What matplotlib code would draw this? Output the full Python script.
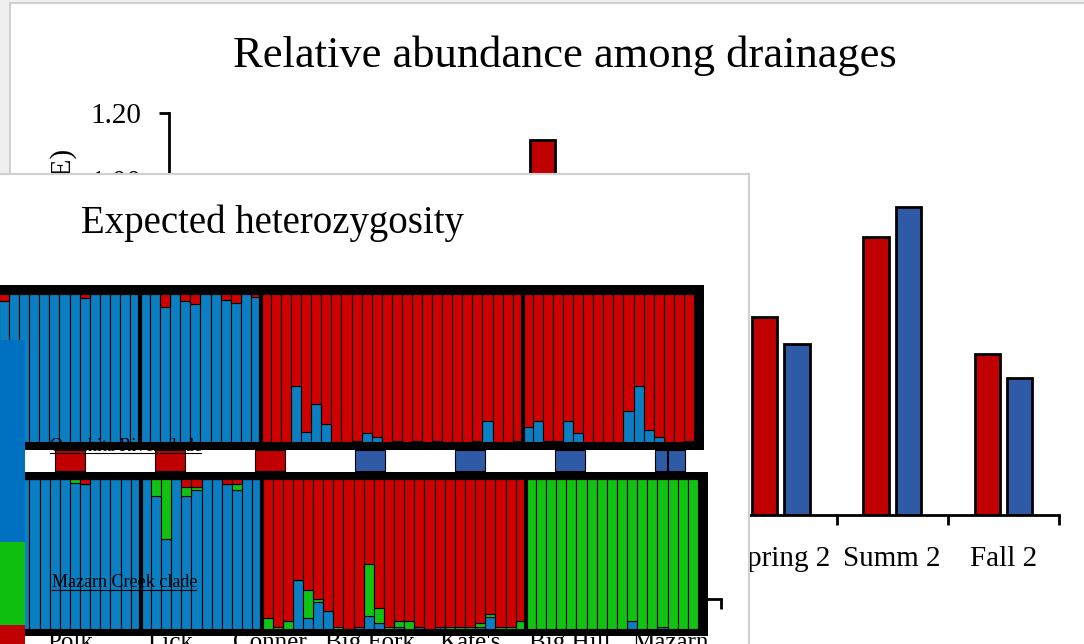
import numpy as np
import matplotlib
matplotlib.use("Agg")
import matplotlib.pyplot as plt
from matplotlib.lines import Line2D
from matplotlib import transforms

# background chart: relative abundance per sampling season
seasons = ["Winter 1", "Spring 1", "Summ 1", "Fall 1", "Winter 2", "Spring 2", "Summ 2", "Fall 2"]
abund_red = [0.55, 0.62, 0.85, 1.12, 0.40, 0.59, 0.83, 0.48]
abund_blue = [0.50, 0.58, 0.90, 0.80, 0.35, 0.51, 0.92, 0.41]

# population labels and colour codes under the STRUCTURE plots
pops = ["Polk", "Lick", "Conner", "Big Fork", "Kate's", "Big Hill", "Mazarn"]
pop_codes = ["red", "red", "red", "blue", "blue", "blue", "blue"]

# STRUCTURE K=2 (blue share of each individual), four blocks
k2_blue_a = [0.955, 1, 1, 1, 1, 1, 1, 1, 0.97, 1, 1, 1, 1, 1]
k2_blue_b = [1, 1, 0.91, 1, 0.955, 0.93, 1, 1, 0.96, 0.94, 1, 0.98]
k2_blue_c = [0, 0, 0, 0.38, 0.07, 0.255, 0.124, 0, 0, 0.01, 0.06, 0.035, 0,
             0.01, 0, 0.01, 0, 0.01, 0, 0, 0, 0.01, 0.14, 0, 0, 0.01]
k2_blue_d = [0.10, 0.14, 0.01, 0.01, 0.14, 0.06, 0, 0, 0, 0, 0.21, 0.38, 0.08,
             0.035, 0, 0, 0.01]

# STRUCTURE K=3 (blue, green, red shares)
k3_blue_a = [1, 1, 1, 1, 1, 1, 1, 0.973, 0.97, 1, 1, 1, 1, 1]
k3_green_a = [0, 0, 0, 0, 0, 0, 0, 0.027, 0, 0, 0, 0, 0, 0]
k3_blue_b = [1, 0.885, 0.60, 1, 0.889, 0.929, 1, 1, 0.97, 0.93, 1, 1]
k3_green_b = [0, 0.115, 0.40, 0, 0.058, 0.018, 0, 0, 0, 0.04, 0, 0]
k3_blue_c = [0, 0, 0, 0.33, 0.073, 0.18, 0.12, 0, 0, 0.013, 0.085, 0.04, 0,
             0.013, 0, 0.013, 0, 0.013, 0, 0, 0, 0.013, 0.078, 0, 0, 0]
k3_green_c = [0.073, 0.013, 0.055, 0, 0.19, 0.022, 0, 0.013, 0, 0, 0.35, 0.10,
              0.013, 0.04, 0.055, 0, 0, 0, 0.013, 0.013, 0.013, 0.027, 0.024,
              0.013, 0.013, 0.055]
k3_blue_d = [0, 0, 0, 0, 0, 0, 0, 0, 0, 0, 0.055, 0, 0, 0.013, 0, 0, 0]
k3_green_d = [1, 1, 1, 1, 1, 1, 1, 1, 1, 1, 0.945, 1, 1, 0.987, 1, 1, 1]

# cluster key on the left edge
key_colors = ["#0070c0", "#10c010", "#c00000"]
key_sizes = [0.63, 0.26, 0.11]

RED, BLUE = "#c00000", "#2f5ba6"
S_BLUE, S_GREEN, S_RED = "#0b7fc1", "#12c212", "#cf0000"

plt.rcParams['font.family'] = ['Liberation Serif', 'DejaVu Serif']
W, H = 1084, 644
fig = plt.figure(figsize=(W / 100, H / 100), dpi=100)
fig.patch.set_facecolor("#f0f0f0")


def px_box(x0, y0, x1, y1):
    return [x0 / W, 1 - y1 / H, (x1 - x0) / W, (y1 - y0) / H]


def blank(ax, face="white", edges=(), ec="#d0d0d0"):
    ax.set_facecolor(face)
    ax.set_xticks([])
    ax.set_yticks([])
    for name, sp in ax.spines.items():
        sp.set_visible(name in edges)
        sp.set_edgecolor(ec)
        sp.set_linewidth(1.5)


# background panel
bg = fig.add_axes(px_box(10, 3, 1110, 700))
blank(bg, edges=("left", "top"))

ax = fig.add_axes(px_box(169, 113, 1059, 515))
xc = np.arange(len(seasons)) + 0.5
ax.bar(xc - 0.145, abund_red, 0.225, color=RED, edgecolor="black", linewidth=2)
ax.bar(xc + 0.145, abund_blue, 0.225, color=BLUE, edgecolor="black", linewidth=2)
ax.set_xlim(0, len(seasons))
ax.set_ylim(0, 1.2)
ax.set_facecolor("none")
for s in ["top", "right"]:
    ax.spines[s].set_visible(False)
for s in ["left", "bottom"]:
    ax.spines[s].set_linewidth(2)
ax.set_yticks(np.arange(0, 1.21, 0.2))
ax.yaxis.set_major_formatter(matplotlib.ticker.FormatStrFormatter("%.2f"))
ax.tick_params(axis="y", length=7, width=2, pad=13, labelsize=21)
ax.set_xticks(xc, labels=seasons)
ax.tick_params(axis="x", which="major", length=0, pad=22, labelsize=21)
ax.set_xticks(np.arange(len(seasons) + 1), minor=True)
ax.tick_params(axis="x", which="minor", length=7, width=2)
ax.set_ylabel("Relative abundance (CPUE)", fontsize=21)
ax.yaxis.set_label_coords(-0.103, 0.5)
fig.text(565 / W, 1 - 67 / H, "Relative abundance among drainages",
         ha="center", va="baseline", fontsize=32)

# heterozygosity panel on top
hp = fig.add_axes(px_box(-10, 174, 749, 700))
blank(hp, edges=("right", "top"))
fig.text(272 / W, 1 - 233 / H, "Expected heterozygosity",
         ha="center", va="baseline", fontsize=28)
hx = fig.add_axes(px_box(300, 560, 721, 599))
hx.set_facecolor("none")
for name, sp in hx.spines.items():
    sp.set_visible(name == "bottom")
    sp.set_linewidth(2)
hx.set_xlim(0, 1)
hx.set_yticks([])
hx.set_xticks([1], labels=[""])
hx.tick_params(axis="x", length=7, width=2)

# population colour band
band = fig.add_axes(px_box(20, 450, 720, 472))
blank(band)
band.set_xlim(0, len(pops))
band.set_ylim(-0.05, 1)
band_cols = [RED if c == "red" else BLUE for c in pop_codes]
band.bar(np.arange(len(pops)) + 0.5, 1, 0.3, color=band_cols,
         edgecolor="black", linewidth=0.8)
# Mazarn code is split in two
band.axvline(len(pops) - 0.5 - 0.02, ymin=0.05, color="black", linewidth=1.5)


def structure(box_outer, box_inner, layers):
    fr = fig.add_axes(px_box(*box_outer))
    blank(fr, face="black")
    s = fig.add_axes(px_box(*box_inner))
    s.set_axis_off()
    n = len(layers[0][0])
    x = np.arange(n)
    bottom = np.zeros(n)
    for vals, col in layers:
        vals = np.asarray(vals, dtype=float)
        s.bar(x, vals, 1.0, bottom=bottom, color=col, edgecolor="black", linewidth=0.8)
        bottom += vals
    bounds = np.cumsum([len(k2_blue_a), len(k2_blue_b), len(k2_blue_c)]) - 0.5
    for b in bounds:
        s.axvline(b, color="black", linewidth=3)
    s.set_xlim(-0.5, n - 0.5)
    s.set_ylim(0, 1)


k2_blue = np.array(k2_blue_a + k2_blue_b + k2_blue_c + k2_blue_d)
structure((-5, 285, 704, 450), (-1, 294, 694, 442),
          [(k2_blue, S_BLUE), (1 - k2_blue, S_RED)])

k3_blue = np.array(k3_blue_a + k3_blue_b + k3_blue_c + k3_blue_d)
k3_green = np.array(k3_green_a + k3_green_b + k3_green_c + k3_green_d)
k3_red = np.clip(1 - k3_blue - k3_green, 0, 1)
structure((-5, 472, 708, 636), (-1, 479, 698, 629),
          [(k3_blue, S_BLUE), (k3_green, S_GREEN), (k3_red, S_RED)])

# clade captions
fig.text(50 / W, 1 - 451 / H, "Ouachita River clade", fontsize=13, va="baseline")
fig.add_artist(Line2D([50 / W, 201 / W], [1 - 453 / H] * 2, color="black", lw=0.8))
fig.text(52 / W, 1 - 587 / H, "Mazarn Creek clade", fontsize=13, va="baseline")
fig.add_artist(Line2D([52 / W, 196 / W], [1 - 589.5 / H] * 2, color="black", lw=0.8))

# population names
tr = transforms.blended_transform_factory(band.transData, fig.transFigure)
for i, p in enumerate(pops):
    fig.text(i + 0.5, 1 - 649 / H, p, transform=tr, ha="center", va="baseline", fontsize=18)

# cluster key
key = fig.add_axes(px_box(0, 340, 25, 660))
key.set_axis_off()
key.set_xlim(-0.5, 0.5)
key.set_ylim(sum(key_sizes), 0)
key.bar(0, key_sizes, 1.0, bottom=np.cumsum([0] + key_sizes[:-1]), color=key_colors)

fig.savefig("out.png", dpi=100)
